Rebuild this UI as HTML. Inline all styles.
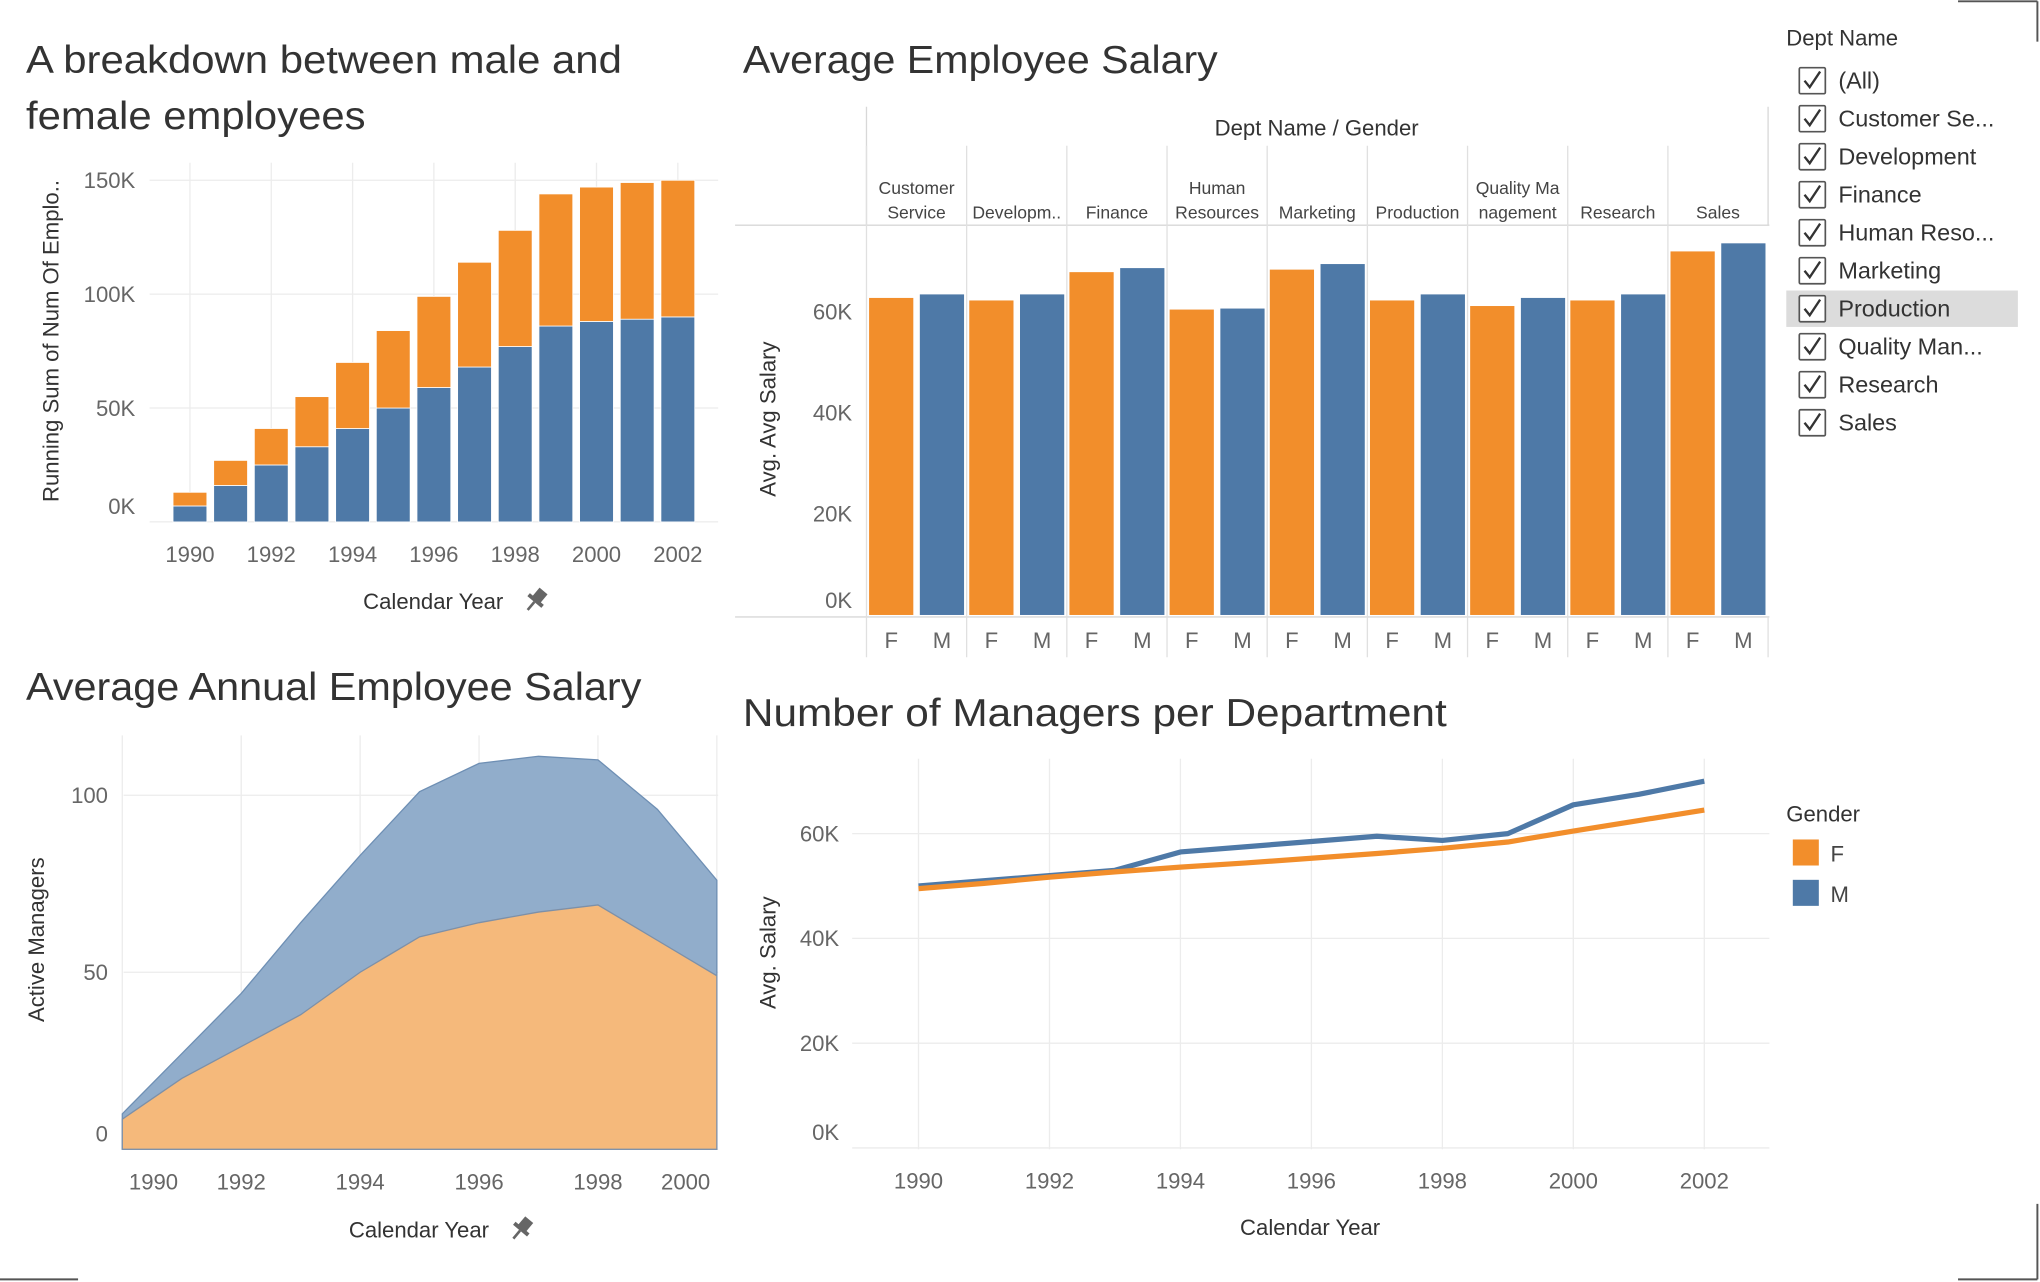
<!DOCTYPE html>
<html><head><meta charset="utf-8">
<style>
html,body{margin:0;padding:0;background:#fff;}
svg{display:block;font-family:"Liberation Sans",sans-serif;}
.tick{fill:#666;font-size:17px;}
.atitle{fill:#333;font-size:17px;}
.title{fill:#333;font-size:30px;}
.grid{stroke:#ececec;stroke-width:1;}
</style></head>
<body>
<svg id="root" width="2040" height="1282" viewBox="0 0 1568 985" preserveAspectRatio="none" xmlns="http://www.w3.org/2000/svg">
<g id="c1">
<text class="title" x="20" y="56" textLength="458" lengthAdjust="spacingAndGlyphs">A breakdown between male and</text>
<text class="title" x="20" y="99" textLength="261" lengthAdjust="spacingAndGlyphs">female employees</text>
<text class="atitle" transform="translate(45,262) rotate(-90)" text-anchor="middle">Running Sum of Num Of Emplo..</text>
<text class="atitle" x="333" y="468" text-anchor="middle">Calendar Year</text>
<g transform="translate(412,461) rotate(40)" fill="#666"><rect x="-4" y="-9" width="8" height="9"/><rect x="-7" y="-1" width="14" height="3"/><rect x="-1" y="2" width="2" height="8"/></g>
</g>
<g id="c2">
<text class="title" x="571" y="56" textLength="365" lengthAdjust="spacingAndGlyphs">Average Employee Salary</text>
<text class="atitle" x="1012" y="104" text-anchor="middle">Dept Name  /  Gender</text>
<text class="atitle" transform="translate(596,322) rotate(-90)" text-anchor="middle">Avg. Avg Salary</text>
</g>
<g id="c3">
<text class="title" x="20" y="538" textLength="473" lengthAdjust="spacingAndGlyphs">Average Annual Employee Salary</text>
<text class="atitle" transform="translate(34,722) rotate(-90)" text-anchor="middle">Active Managers</text>
<text class="atitle" x="322" y="951" text-anchor="middle">Calendar Year</text>
<g transform="translate(401,944) rotate(40)" fill="#666"><rect x="-4" y="-9" width="8" height="9"/><rect x="-7" y="-1" width="14" height="3"/><rect x="-1" y="2" width="2" height="8"/></g>
</g>
<g id="c4">
<text class="title" x="571" y="558" textLength="541" lengthAdjust="spacingAndGlyphs">Number of Managers per Department</text>
<text class="atitle" transform="translate(596,732) rotate(-90)" text-anchor="middle">Avg. Salary</text>
<text class="atitle" x="1007" y="949" text-anchor="middle">Calendar Year</text>
</g>
<g id="filter">
<text x="1373" y="35" fill="#333" font-size="17">Dept Name</text>
</g>
<g id="legend">
<text x="1373" y="631" fill="#333" font-size="17">Gender</text>
<rect x="1378" y="645" width="20" height="20" fill="#f28e2b"/>
<text x="1407" y="662" fill="#444" font-size="17">F</text>
<rect x="1378" y="676" width="20" height="20" fill="#4e79a7"/>
<text x="1407" y="693" fill="#444" font-size="17">M</text>
</g>
<g stroke="#555" stroke-width="1.5">
<line x1="1505" y1="1" x2="1566" y2="1"/><line x1="1566" y1="1" x2="1566" y2="32"/>
<line x1="0" y1="983" x2="60" y2="983"/>
<line x1="1505" y1="983" x2="1566" y2="983"/><line x1="1566" y1="925" x2="1566" y2="983"/>
</g>
</svg>
<script>
const NS="http://www.w3.org/2000/svg";
function mk(parent,tag,attrs,text){const e=document.createElementNS(NS,tag);for(const k in attrs)e.setAttribute(k,attrs[k]);if(text!==undefined)e.textContent=text;parent.appendChild(e);return e;}

// ---------- Chart 1 data ----------
const c1Years=[1990,1991,1992,1993,1994,1995,1996,1997,1998,1999,2000,2001,2002];
const c1Male=[7,16,25,33,41,50,59,68,77,86,88,89,90];
const c1Total=[13,27,41,55,70,84,99,114,128,144,147,149,150];
const c1Ticks=[0,50,100,150];
const c1XLabels=[1990,1992,1994,1996,1998,2000,2002];

// ---------- Chart 2 data ----------
const c2Depts=["Customer Service","Developm..","Finance","Human Resources","Marketing","Production","Quality Management","Research","Sales"];
const c2HeaderL1=["Customer","","","Human","","","Quality Ma","",""];
const c2HeaderL2=["Service","Developm..","Finance","Resources","Marketing","Production","nagement","Research","Sales"];
const c2Female=[62.7,62.2,67.8,60.4,68.3,62.2,61.1,62.2,71.9];
const c2Male=[63.4,63.4,68.6,60.6,69.4,63.4,62.7,63.4,73.5];
const c2Ticks=[0,20,40,60];

// ---------- Chart 3 data ----------
const c3Years=[1990,1991,1992,1993,1994,1995,1996,1997,1998,1999,2000];
const c3Total=[10,27,44,64,83,101,109,111,110,96,76];
const c3Female=[8.5,20,29,38,50,60,64,67,69,59,49];
const c3Ticks=[0,50,100];
const c3XLabels=[1990,1992,1994,1996,1998,2000];

// ---------- Chart 4 data ----------
const c4Years=[1990,1991,1992,1993,1994,1995,1996,1997,1998,1999,2000,2001,2002];
const c4Male=[50,51,52,53,56.5,57.5,58.5,59.5,58.7,60,65.5,67.5,70];
const c4Female=[49.5,50.5,51.7,52.7,53.6,54.4,55.3,56.2,57.2,58.4,60.5,62.5,64.5];
const c4Ticks=[0,20,40,60];
const c4XLabels=[1990,1992,1994,1996,1998,2000,2002];

// ---------- Filter ----------
const filterItems=["(All)","Customer Se...","Development","Finance","Human Reso...","Marketing","Production","Quality Man...","Research","Sales"];

const ORANGE="#f28e2b",BLUE="#4e79a7";

// Chart 1
(function(){
  const g=document.getElementById('c1');
  const x=v=>146+(v-1990)*31.25, y=v=>401-v*1.75;
  for(const yr of c1XLabels){const l=mk(g,'line',{x1:x(yr),x2:x(yr),y1:125,y2:401,class:'grid'});
  
  }
  for(const t of c1Ticks){const l=mk(g,'line',{x1:115,x2:552,y1:y(t),y2:y(t),class:'grid'});
  
  
  const tx=mk(g,'text',{x:104,y:t===0?395:y(t)+6,class:'tick','text-anchor':'end'},t+'K');
  
  }
  c1Years.forEach((yr,i)=>{
    const b=mk(g,'rect',{x:x(yr)-13,y:y(c1Male[i]),width:26,height:y(0)-y(c1Male[i]),fill:BLUE,stroke:'#fff','stroke-width':0.6});
    
    
    const f=mk(g,'rect',{x:x(yr)-13,y:y(c1Total[i]),width:26,height:y(c1Male[i])-y(c1Total[i]),fill:ORANGE,stroke:'#fff','stroke-width':0.6});
    
    
  });
  for(const yr of c1XLabels){const t=mk(g,'text',{x:x(yr),y:432,class:'tick','text-anchor':'middle'},yr);
  
  }
})();

// Chart 2
(function(){
  const g=document.getElementById('c2');
  const y=v=>472.5-v*3.885, col=i=>666+i*77;
  const fr=mk(g,'path',{d:'M666,82 V173 M1359,82 V173 M565,173 H1360 M565,474 H1360',stroke:'#d8d8d8',fill:'none'});
  
  
  for(const t of c2Ticks){const tx=mk(g,'text',{x:655,y:t===0?467:y(t)+6,class:'tick','text-anchor':'end'},t+'K');
  
  }
  c2Depts.forEach((d,i)=>{
    const cx=col(i);
    const sep=mk(g,'line',{x1:cx,x2:cx,y1:112,y2:505,stroke:'#e0e0e0'});
    
    
    const h1=mk(g,'text',{x:cx+38.5,y:149,'text-anchor':'middle',fill:'#444','font-size':13.5},c2HeaderL1[i]);
    
    
    const h2=mk(g,'text',{x:cx+38.5,y:168,'text-anchor':'middle',fill:'#444','font-size':13.5},c2HeaderL2[i]);
    
    
    const bf=mk(g,'rect',{x:cx+2,y:y(c2Female[i]),width:34,height:y(0)-y(c2Female[i]),fill:ORANGE});
    
    
    const bm=mk(g,'rect',{x:cx+41,y:y(c2Male[i]),width:34,height:y(0)-y(c2Male[i]),fill:BLUE});
    
    
    const lf=mk(g,'text',{x:cx+19,y:498,class:'tick','text-anchor':'middle'},'F');
    
    
    const lm=mk(g,'text',{x:cx+58,y:498,class:'tick','text-anchor':'middle'},'M');
    
    
  });
  const last=mk(g,'line',{x1:col(9),x2:col(9),y1:474,y2:505,stroke:'#e0e0e0'});
  
  
})();

// Chart 3
(function(){
  const g=document.getElementById('c3');
  const x=v=>94+(v-1990)*45.7, y=v=>883-v*2.72;
  for(const yr of [1990,1992,1994,1996,1998,2000]){const l=mk(g,'line',{x1:x(yr),x2:x(yr),y1:565,y2:883,class:'grid'});
  
  }
  for(const t of c3Ticks){const l=mk(g,'line',{x1:95,x2:552,y1:y(t),y2:y(t),class:'grid'});
  
  
  const tx=mk(g,'text',{x:83,y:t===0?877:y(t)+6,class:'tick','text-anchor':'end'},t);
  
  }
  const x0=x(c3Years[0]),x1=x(c3Years[c3Years.length-1]);
  let top='M'+x0+','+y(0), fem='M'+x0+','+y(0);
  c3Years.forEach((yr,i)=>{top+=' L'+x(yr)+','+y(c3Total[i]);fem+=' L'+x(yr)+','+y(c3Female[i]);});
  top+=' L'+x1+','+y(0)+' Z'; fem+=' L'+x1+','+y(0)+' Z';
  const a1=mk(g,'path',{d:top,fill:'#91adcb',stroke:'#6e8fb4','stroke-width':1});
  
  
  const a2=mk(g,'path',{d:fem,fill:'#f5b97b',stroke:'#7d90a8','stroke-width':1});
  
  
  for(const yr of c3XLabels){let px=x(yr);if(yr===1990)px=118;if(yr===2000)px=527;
  const t=mk(g,'text',{x:px,y:914,class:'tick','text-anchor':'middle'},yr);
  
  }
})();

// Chart 4
(function(){
  const g=document.getElementById('c4');
  const x=v=>706+(v-1990)*50.33, y=v=>882-v*4.025;
  for(const yr of c4XLabels){const l=mk(g,'line',{x1:x(yr),x2:x(yr),y1:583,y2:883,class:'grid'});
  
  }
  for(const t of c4Ticks){const l=mk(g,'line',{x1:655,x2:1360,y1:y(t),y2:y(t),class:'grid'});
  
  
  const tx=mk(g,'text',{x:645,y:t===0?876:y(t)+6,class:'tick','text-anchor':'end'},t+'K');
  
  }
  const pts=arr=>c4Years.map((yr,i)=>x(yr)+','+y(arr[i])).join(' ');
  const lm=mk(g,'polyline',{points:pts(c4Male),fill:'none',stroke:BLUE,'stroke-width':4,'stroke-linejoin':'round'});
  
  
  const lf=mk(g,'polyline',{points:pts(c4Female),fill:'none',stroke:ORANGE,'stroke-width':4,'stroke-linejoin':'round'});
  
  
  for(const yr of c4XLabels){const t=mk(g,'text',{x:x(yr),y:913,class:'tick','text-anchor':'middle'},yr);
  
  }
})();

// Filter
(function(){
  const g=document.getElementById('filter');
  filterItems.forEach((it,i)=>{
    const cy=62+i*29.2;
    if(it==='Production'){const h=mk(g,'rect',{x:1373,y:cy-14,width:178,height:28,fill:'#dcdcdc'});
    
    }
    const b=mk(g,'rect',{x:1383,y:cy-10,width:20,height:20,fill:'#fff',stroke:'#555','stroke-width':1.3,rx:1});
    
    
    const c=mk(g,'path',{d:'M'+(1387)+','+(cy)+' l4,5 l8,-12',fill:'none',stroke:'#333','stroke-width':1.8});
    
    
    const t=mk(g,'text',{x:1413,y:cy+6,fill:'#333','font-size':18},it);
    
    
  });
})();
</script>
</body></html>
